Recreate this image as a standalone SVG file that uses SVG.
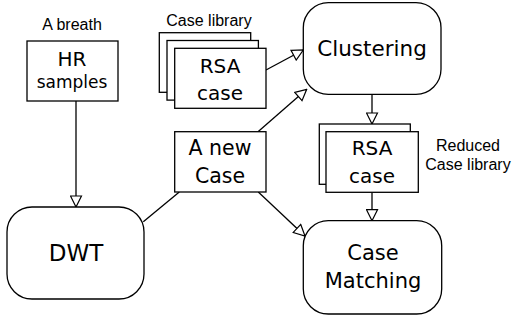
<svg xmlns="http://www.w3.org/2000/svg" width="512" height="320" viewBox="0 0 512 320">
<style>
.box{fill:#fff;stroke:#000;stroke-width:1.3}
.lbl{font-family:"Liberation Sans",Arial,sans-serif;font-size:16px;fill:#000;text-anchor:middle}
.t{font-family:"DejaVu Sans",sans-serif;fill:#000;text-anchor:middle}
.ln{stroke:#000;stroke-width:1.3;fill:none}
</style>
<defs>
<marker id="ah" markerUnits="userSpaceOnUse" markerWidth="13" markerHeight="13" refX="11" refY="5.5" orient="auto" viewBox="-1 -1 13 13">
<path d="M0,0 L11,5.5 L0,11 Z" fill="#fff" stroke="#000" stroke-width="1.2"/>
</marker>
</defs>
<rect width="512" height="320" fill="#fff"/>
<g id="connectors">
<line class="ln" x1="76" y1="101" x2="76" y2="207" marker-end="url(#ah)"/>
<line class="ln" x1="266" y1="70" x2="303.3" y2="50" marker-end="url(#ah)"/>
<line class="ln" x1="258" y1="131.7" x2="306.7" y2="89.3" marker-end="url(#ah)"/>
<line class="ln" x1="372" y1="94.3" x2="372" y2="124" marker-end="url(#ah)"/>
<line class="ln" x1="372" y1="192.3" x2="372" y2="220.7" marker-end="url(#ah)"/>
<line class="ln" x1="179.3" y1="192" x2="143.3" y2="221.7"/>
<line class="ln" x1="258.3" y1="192" x2="305" y2="236" marker-end="url(#ah)"/>
</g>
<g id="hr-samples">
<text class="lbl" x="72" y="30">A breath</text>
<rect class="box" x="27" y="41" width="91" height="60"/>
<text class="t" x="72" y="66" font-size="20">HR</text>
<text class="t" x="72" y="88" font-size="17">samples</text>
</g>
<g id="case-library">
<text class="lbl" x="209" y="26">Case library</text>
<rect class="box" x="159.3" y="32.7" width="91.4" height="59.6"/>
<rect class="box" x="167" y="40.5" width="91.4" height="59.6"/>
<rect class="box" x="174.7" y="48.3" width="91.3" height="60"/>
<text class="t" x="220" y="72.7" font-size="20">RSA</text>
<text class="t" x="220" y="100" font-size="20">case</text>
</g>
<g id="clustering">
<rect class="box" x="303.3" y="2.7" width="137.7" height="91.6" rx="25" ry="25"/>
<text class="t" x="372" y="56" font-size="21.5">Clustering</text>
</g>
<g id="reduced-library">
<rect class="box" x="319.3" y="124" width="91" height="60.3"/>
<rect class="box" x="326" y="131.7" width="92.3" height="60.6"/>
<text class="t" x="372" y="155" font-size="20">RSA</text>
<text class="t" x="372" y="183.3" font-size="20">case</text>
<text class="lbl" x="468" y="150.7">Reduced</text>
<text class="lbl" x="468" y="170">Case library</text>
</g>
<g id="new-case">
<rect class="box" x="174.7" y="131.7" width="91.3" height="60.3"/>
<text class="t" x="220" y="155" font-size="20.5">A new</text>
<text class="t" x="220" y="182.7" font-size="20.5">Case</text>
</g>
<g id="dwt">
<rect class="box" x="7" y="207" width="137" height="92" rx="25" ry="25"/>
<text class="t" x="76" y="261" font-size="23">DWT</text>
</g>
<g id="case-matching">
<rect class="box" x="303.3" y="220.7" width="138.4" height="93.3" rx="25" ry="25"/>
<text class="t" x="373" y="260" font-size="21">Case</text>
<text class="t" x="373" y="288.3" font-size="21">Matching</text>
</g>
</svg>
